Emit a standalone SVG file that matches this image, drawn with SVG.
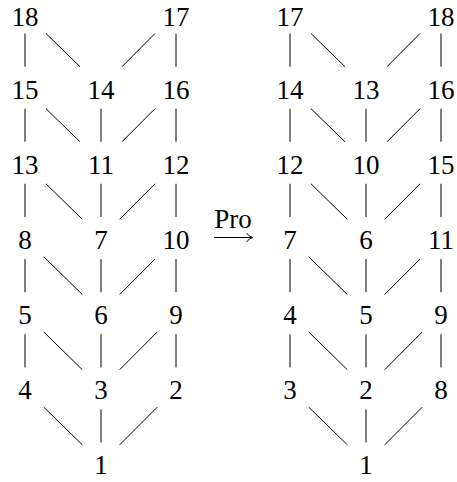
<svg xmlns="http://www.w3.org/2000/svg" width="457" height="482" viewBox="0 0 457 482">
<style>
text{font-family:"Liberation Serif","Times New Roman",serif;font-size:27px;fill:#000;text-anchor:middle}
.e line,.e path{stroke:#000;stroke-width:1;fill:none}
</style>
<rect width="457" height="482" fill="#fff"/>
<g transform="translate(0,1.5)">
<g class="e" id="connectors">
<line x1="25" y1="32" x2="25" y2="65.2"/>
<line x1="46" y1="32" x2="80" y2="65.2"/>
<line x1="155" y1="32" x2="122" y2="65.2"/>
<line x1="176" y1="32" x2="176" y2="65.2"/>
<line x1="25" y1="107.2" x2="25" y2="140.3"/>
<line x1="46" y1="107.2" x2="80" y2="140.3"/>
<line x1="101" y1="107.2" x2="101" y2="140.3"/>
<line x1="155" y1="107.2" x2="122" y2="140.3"/>
<line x1="176" y1="107.2" x2="176" y2="140.3"/>
<line x1="25" y1="182.3" x2="25" y2="215.5"/>
<line x1="46" y1="182.3" x2="82.3" y2="217.8"/>
<line x1="101" y1="182.3" x2="101" y2="215.5"/>
<line x1="155" y1="182.3" x2="119.7" y2="217.8"/>
<line x1="176" y1="182.3" x2="176" y2="215.5"/>
<line x1="25" y1="257.5" x2="25" y2="290.7"/>
<line x1="43.7" y1="255.2" x2="82.3" y2="293"/>
<line x1="101" y1="257.5" x2="101" y2="290.7"/>
<line x1="155" y1="257.5" x2="119.7" y2="293"/>
<line x1="176" y1="257.5" x2="176" y2="290.7"/>
<line x1="25" y1="332.7" x2="25" y2="365.9"/>
<line x1="43.7" y1="330.4" x2="82.3" y2="368.2"/>
<line x1="101" y1="332.7" x2="101" y2="365.9"/>
<line x1="157.3" y1="330.4" x2="119.7" y2="368.2"/>
<line x1="176" y1="332.7" x2="176" y2="365.9"/>
<line x1="43.7" y1="405.6" x2="82.3" y2="443.3"/>
<line x1="101" y1="407.9" x2="101" y2="441"/>
<line x1="157.3" y1="405.6" x2="119.7" y2="443.3"/>
<line x1="290" y1="32" x2="290" y2="65.2"/>
<line x1="311" y1="32" x2="345" y2="65.2"/>
<line x1="420" y1="32" x2="387" y2="65.2"/>
<line x1="441" y1="32" x2="441" y2="65.2"/>
<line x1="290" y1="107.2" x2="290" y2="140.3"/>
<line x1="311" y1="107.2" x2="345" y2="140.3"/>
<line x1="366" y1="107.2" x2="366" y2="140.3"/>
<line x1="420" y1="107.2" x2="387" y2="140.3"/>
<line x1="441" y1="107.2" x2="441" y2="140.3"/>
<line x1="290" y1="182.3" x2="290" y2="215.5"/>
<line x1="311" y1="182.3" x2="347.3" y2="217.8"/>
<line x1="366" y1="182.3" x2="366" y2="215.5"/>
<line x1="420" y1="182.3" x2="384.7" y2="217.8"/>
<line x1="441" y1="182.3" x2="441" y2="215.5"/>
<line x1="290" y1="257.5" x2="290" y2="290.7"/>
<line x1="308.7" y1="255.2" x2="347.3" y2="293"/>
<line x1="366" y1="257.5" x2="366" y2="290.7"/>
<line x1="420" y1="257.5" x2="384.7" y2="293"/>
<line x1="441" y1="257.5" x2="441" y2="290.7"/>
<line x1="290" y1="332.7" x2="290" y2="365.9"/>
<line x1="308.7" y1="330.4" x2="347.3" y2="368.2"/>
<line x1="366" y1="332.7" x2="366" y2="365.9"/>
<line x1="422.3" y1="330.4" x2="384.7" y2="368.2"/>
<line x1="441" y1="332.7" x2="441" y2="365.9"/>
<line x1="308.7" y1="405.6" x2="347.3" y2="443.3"/>
<line x1="366" y1="407.9" x2="366" y2="441"/>
<line x1="422.3" y1="405.6" x2="384.7" y2="443.3"/>
</g>
<g id="pro">
<text x="233" y="226.5">Pro</text>
<g class="e"><line x1="214" y1="236" x2="252" y2="236"/><path d="M246.5,231.5 Q249,235 252.5,236 Q249,237 246.5,240.5"/></g>
</g>
<g id="L18"><text x="25" y="24">18</text></g>
<g id="L17"><text x="176" y="24">17</text></g>
<g id="L15"><text x="25" y="97.2">15</text></g>
<g id="L14"><text x="101" y="97.2">14</text></g>
<g id="L16"><text x="176" y="97.2">16</text></g>
<g id="L13"><text x="25" y="172.3">13</text></g>
<g id="L11"><text x="101" y="172.3">11</text></g>
<g id="L12"><text x="176" y="172.3">12</text></g>
<g id="L8"><text x="25" y="247.5">8</text></g>
<g id="L7"><text x="101" y="247.5">7</text></g>
<g id="L10"><text x="176" y="247.5">10</text></g>
<g id="L5"><text x="25" y="322.7">5</text></g>
<g id="L6"><text x="101" y="322.7">6</text></g>
<g id="L9"><text x="176" y="322.7">9</text></g>
<g id="L4"><text x="25" y="397.9">4</text></g>
<g id="L3"><text x="101" y="397.9">3</text></g>
<g id="L2"><text x="176" y="397.9">2</text></g>
<g id="L1"><text x="101" y="472.5">1</text></g>
<g id="R17"><text x="290" y="24">17</text></g>
<g id="R18"><text x="441" y="24">18</text></g>
<g id="R14"><text x="290" y="97.2">14</text></g>
<g id="R13"><text x="366" y="97.2">13</text></g>
<g id="R16"><text x="441" y="97.2">16</text></g>
<g id="R12"><text x="290" y="172.3">12</text></g>
<g id="R10"><text x="366" y="172.3">10</text></g>
<g id="R15"><text x="441" y="172.3">15</text></g>
<g id="R7"><text x="290" y="247.5">7</text></g>
<g id="R6"><text x="366" y="247.5">6</text></g>
<g id="R11"><text x="441" y="247.5">11</text></g>
<g id="R4"><text x="290" y="322.7">4</text></g>
<g id="R5"><text x="366" y="322.7">5</text></g>
<g id="R9"><text x="441" y="322.7">9</text></g>
<g id="R3"><text x="290" y="397.9">3</text></g>
<g id="R2"><text x="366" y="397.9">2</text></g>
<g id="R8"><text x="441" y="397.9">8</text></g>
<g id="R1"><text x="366" y="472.5">1</text></g>
</g>
</svg>
